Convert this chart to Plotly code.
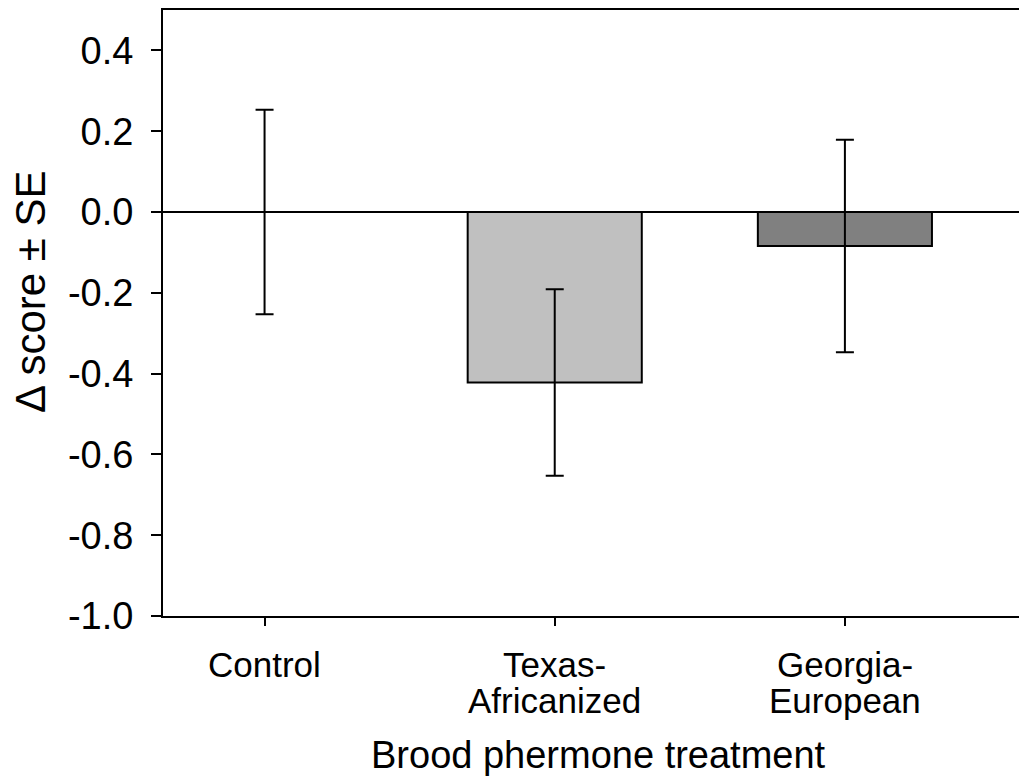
import plotly.graph_objects as go

categories = ["Control", "Texas-<br>Africanized", "Georgia-<br>European"]
values = [0.0, -0.422, -0.084]
se = [0.253, 0.231, 0.263]
colors = ["#FFFFFF", "#C0C0C0", "#808080"]
yticks = [0.4, 0.2, 0.0, -0.2, -0.4, -0.6, -0.8, -1.0]
yticklabels = ["0.4", "0.2", "0.0", "-0.2", "-0.4", "-0.6", "-0.8", "-1.0"]

fam = "Liberation Sans, Arial, sans-serif"
font = dict(family=fam, size=38, color="black")
catfont = dict(family=fam, size=35, color="black")
ytitlefont = dict(family=fam, size=42, color="black")

fig = go.Figure()
fig.add_trace(go.Bar(
    x=[0, 1, 2], y=values, width=0.6,
    marker=dict(color=colors, line=dict(color="black", width=2)),
    error_y=dict(type="data", array=se, visible=True, color="black", thickness=2, width=9),
    showlegend=False,
))

# category tick labels, one annotation per line for tight line spacing
for i, cat in enumerate(categories):
    for j, line in enumerate(cat.split("<br>")):
        fig.add_annotation(
            x=i, xref="x", y=0, yref="paper", yanchor="middle", xanchor="center",
            yshift=-48 - 36 * j, text=line, showarrow=False, font=catfont,
        )

fig.add_annotation(
    x=0.5, xref="paper", xshift=7, y=0, yref="paper", yanchor="middle",
    yshift=-139, text="Brood phermone treatment", showarrow=False, font=font,
)
fig.add_annotation(
    x=0, xref="paper", xshift=-133, y=(616 - 292) / 606, yref="paper",
    yanchor="middle", xanchor="center", textangle=-90,
    text="Δ score ± SE", showarrow=False, font=ytitlefont,
)

fig.update_layout(
    width=1019, height=779,
    margin=dict(l=163, r=0, t=10, b=163),
    paper_bgcolor="white", plot_bgcolor="white",
    font=font,
    xaxis=dict(
        range=[-0.35, 2.6], tickvals=[0, 1, 2], showticklabels=False,
        showline=True, linecolor="black", linewidth=2, mirror=True,
        ticks="outside", ticklen=8, tickwidth=2, tickcolor="black",
        showgrid=False, zeroline=False,
    ),
    yaxis=dict(
        range=[-1.0, 0.5], tickvals=yticks, ticktext=yticklabels,
        showline=True, linecolor="black", linewidth=2,
        ticks="outside", ticklen=10, tickwidth=2, tickcolor="black",
        ticklabelstandoff=10,
        showgrid=False, zeroline=True, zerolinecolor="black", zerolinewidth=2,
    ),
)

fig.write_html("out.html")
